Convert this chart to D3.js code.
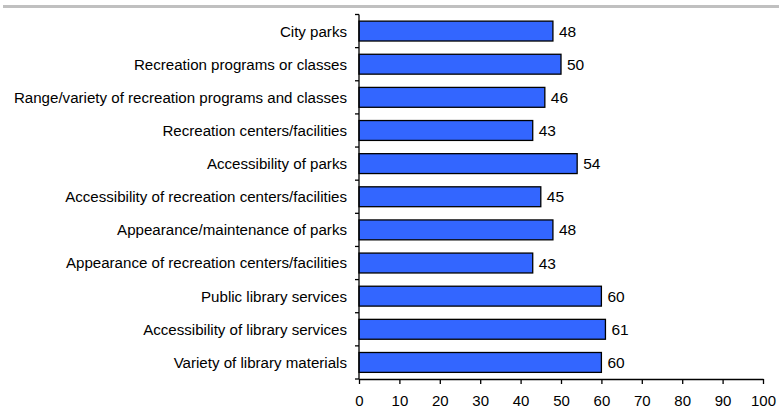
<!DOCTYPE html>
<html><head><meta charset="utf-8">
<script src="https://cdn.jsdelivr.net/npm/d3@7"></script>
<style>body{margin:0;background:#fff}svg{display:block}text{font-family:"Liberation Sans",Arial,sans-serif}</style>
</head><body><svg id="c" width="779" height="414"></svg>
<script>
const categories = ["City parks","Recreation programs or classes","Range/variety of recreation programs and classes","Recreation centers/facilities","Accessibility of parks","Accessibility of recreation centers/facilities","Appearance/maintenance of parks","Appearance of recreation centers/facilities","Public library services","Accessibility of library services","Variety of library materials"];
const values = [48,50,46,43,54,45,48,43,60,61,60];
const xTicks = [0,10,20,30,40,50,60,70,80,90,100];

const svg = d3.select("#c");
svg.append("rect").attr("x",3).attr("y",5).attr("width",776).attr("height",3).attr("fill","#c0c0c0");

const x = d3.scaleLinear().domain([0,100]).range([359,763]);
const y = d3.scaleBand().domain(categories).range([14.5,379]).paddingInner(0.4).paddingOuter(0.2);

// bars
svg.selectAll("rect.bar").data(values).join("rect").attr("class","bar")
  .attr("x",x(0)).attr("y",(d,i)=>y(categories[i]))
  .attr("width",d=>x(d)-x(0)).attr("height",y.bandwidth())
  .attr("fill","#3366ff").attr("stroke","#000").attr("stroke-width",1.3);

svg.selectAll("text.val").data(values).join("text").attr("class","val")
  .attr("x",d=>x(d)+6).attr("y",(d,i)=>y(categories[i])+y.bandwidth()/2)
  .attr("dy","0.36em").attr("font-size",15.5).attr("fill","#000").text(d=>d);

// y axis
const yAxis = svg.append("g");
yAxis.append("line").attr("x1",x(0)).attr("x2",x(0)).attr("y1",14.5).attr("y2",379).attr("stroke","#000").attr("stroke-width",1.3);
const bounds = d3.range(categories.length+1).map(i=>14.5+i*(379-14.5)/categories.length);
yAxis.selectAll("line.t").data(bounds).join("line").attr("class","t")
  .attr("x1",x(0)-4).attr("x2",x(0)).attr("y1",d=>d).attr("y2",d=>d).attr("stroke","#000").attr("stroke-width",1.3);
yAxis.selectAll("text").data(categories).join("text")
  .attr("x",x(0)-12).attr("y",d=>y(d)+y.bandwidth()/2).attr("dy","0.36em")
  .attr("text-anchor","end").attr("font-size",15.1).attr("fill","#000").text(d=>d);

// x axis
const xAxis = d3.axisBottom(x).tickValues(xTicks).tickSize(5).tickSizeOuter(0).tickPadding(11);
const gx = svg.append("g").attr("transform","translate(0,379)").call(xAxis);
gx.select(".domain").attr("stroke","#000").attr("stroke-width",1.3);
gx.selectAll(".tick line").attr("stroke","#000").attr("stroke-width",1.3);
gx.selectAll(".tick text").attr("font-size",15).attr("fill","#000").attr("font-family","Liberation Sans, Arial, sans-serif");
</script></body></html>
